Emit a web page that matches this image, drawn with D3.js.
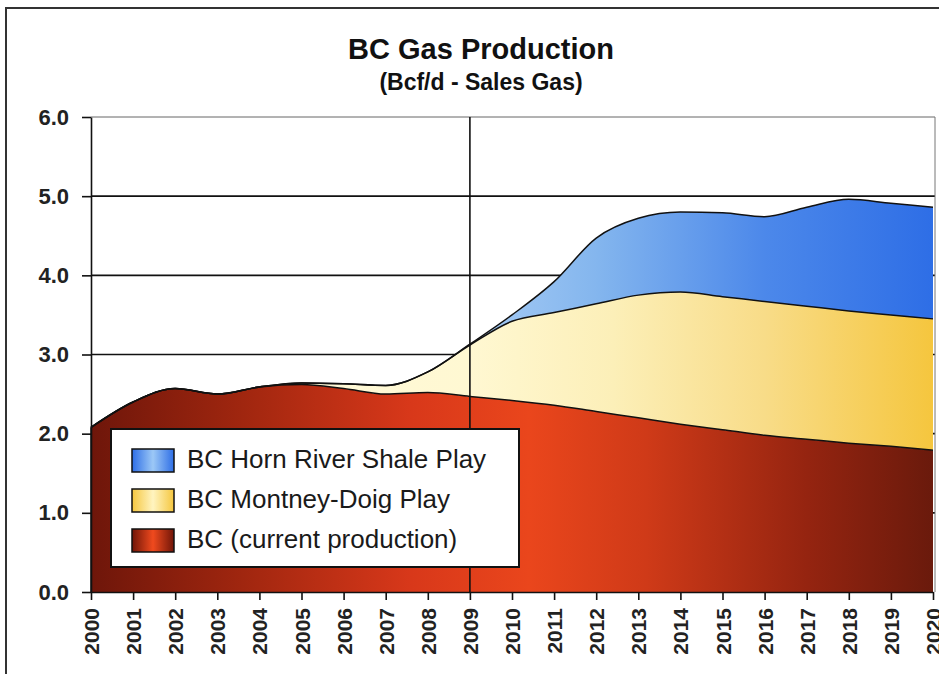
<!DOCTYPE html>
<html>
<head>
<meta charset="utf-8">
<script src="https://cdn.jsdelivr.net/npm/d3@7"></script>
<style>
body { margin: 0; background: #fff; }
text { font-family: "Liberation Sans", Arial, sans-serif; }
</style>
</head>
<body>
<svg id="chart" width="939" height="674"></svg>
<script>
// Data (Bcf/d, sales gas)
var years = [2000, 2001, 2002, 2003, 2004, 2005, 2006, 2007, 2008, 2009, 2010,
             2011, 2012, 2013, 2014, 2015, 2016, 2017, 2018, 2019, 2020];
var currentProd = [2.08, 2.40, 2.57, 2.50, 2.59, 2.62, 2.57, 2.50, 2.52, 2.47, 2.42,
                   2.36, 2.28, 2.20, 2.12, 2.05, 1.98, 1.93, 1.88, 1.84, 1.79];
var montneyDoig = [0, 0, 0, 0, 0, 0.02, 0.06, 0.11, 0.26, 0.65, 1.00,
                   1.17, 1.36, 1.55, 1.67, 1.68, 1.69, 1.68, 1.67, 1.66, 1.66];
var hornRiver = [0, 0, 0, 0, 0, 0, 0, 0, 0, 0.01, 0.08,
                 0.39, 0.83, 0.97, 1.01, 1.06, 1.07, 1.25, 1.41, 1.41, 1.41];
var yTicks = [0, 1, 2, 3, 4, 5, 6];
var seriesKeys = ["current", "montney", "horn"];
var legendLabels = ["BC Horn River Shale Play", "BC Montney-Doig Play", "BC (current production)"];
var legendKeys = ["horn", "montney", "current"];
var markerYear = 2009;

var rows = years.map(function(yr, i) {
    return {year: yr, current: currentProd[i], montney: montneyDoig[i], horn: hornRiver[i]};
});

var svg = d3.select("#chart");
var pLeft = 91, pRight = 933, pTop = 117, pBottom = 592;

var x = d3.scaleLinear().domain([2000, 2020]).range([pLeft, pRight]);
var y = d3.scaleLinear().domain([0, 6]).range([pBottom, pTop]);

// gradients
var defs = svg.append("defs");
function addGrad(id, stops, bbox) {
    var g = defs.append("linearGradient").attr("id", id)
        .attr("x1", bbox ? "0" : pLeft).attr("x2", bbox ? "1" : pRight)
        .attr("y1", 0).attr("y2", 0);
    if (!bbox) g.attr("gradientUnits", "userSpaceOnUse");
    stops.forEach(function(s) {
        g.append("stop").attr("offset", s[0]).attr("stop-color", s[1]);
    });
}
addGrad("g-current", [[0, "#6e160a"], [0.18, "#a0260f"], [0.38, "#d8381a"], [0.52, "#ea461c"],
                      [0.66, "#cf3a18"], [0.85, "#952410"], [1, "#6a1a0c"]]);
addGrad("g-montney", [[0, "#fffbe0"], [0.45, "#fff8d2"], [0.62, "#fcefb8"], [0.8, "#f8dc88"], [1, "#f5c63e"]]);
addGrad("g-horn", [[0, "#c0dcf8"], [0.45, "#a6cbf4"], [0.6, "#84b6ee"], [0.8, "#4c88ea"], [1, "#2e6ee6"]]);
addGrad("s-current", [[0, "#701508"], [0.5, "#f04a1e"], [1, "#701508"]], true);
addGrad("s-montney", [[0, "#f5c63e"], [0.5, "#fff4c0"], [1, "#f5c63e"]], true);
addGrad("s-horn", [[0, "#2e6ee6"], [0.5, "#9cc8f6"], [1, "#2e6ee6"]], true);

// outer frame
svg.append("path").attr("d", "M6,680 L6,8 L945,8")
    .attr("fill", "none").attr("stroke", "#333").attr("stroke-width", 2);

// horizontal grid
svg.append("g").selectAll("line").data(yTicks.filter(function(d) { return d > 0; }))
    .enter().append("line")
    .attr("x1", pLeft).attr("x2", pRight + 2)
    .attr("y1", function(d) { return y(d); }).attr("y2", function(d) { return y(d); })
    .attr("stroke", function(d) { return d == 6 ? "#666" : "#111"; })
    .attr("stroke-width", function(d) { return d == 6 ? 1 : 1.6; });

// stacked areas
var stacked = d3.stack().keys(seriesKeys)(rows);
var area = d3.area()
    .x(function(d) { return x(d.data.year); })
    .y0(function(d) { return y(d[0]); })
    .y1(function(d) { return y(d[1]); })
    .curve(d3.curveMonotoneX);
var topLine = d3.line()
    .x(function(d) { return x(d.data.year); })
    .y(function(d) { return y(d[1]); })
    .curve(d3.curveMonotoneX);

svg.append("g").selectAll("path").data(stacked).enter().append("path")
    .attr("d", area)
    .attr("fill", function(d) { return "url(#g-" + d.key + ")"; });

svg.append("g").selectAll("path").data(stacked).enter().append("path")
    .attr("d", topLine)
    .attr("fill", "none").attr("stroke", "#111").attr("stroke-width", 1.5);

// left edge of red area
svg.append("line").attr("x1", pLeft).attr("x2", pLeft)
    .attr("y1", y(0)).attr("y2", y(currentProd[0]))
    .attr("stroke", "#111").attr("stroke-width", 1.5);

// vertical marker line
svg.append("line").attr("x1", x(markerYear)).attr("x2", x(markerYear))
    .attr("y1", pTop).attr("y2", pBottom)
    .attr("stroke", "#111").attr("stroke-width", 1.6);

// plot border right side
svg.append("line").attr("x1", pRight + 2).attr("x2", pRight + 2)
    .attr("y1", pTop).attr("y2", pBottom)
    .attr("stroke", "#777").attr("stroke-width", 1);

// axes
var yAxis = d3.axisLeft(y).tickValues(yTicks).tickFormat(d3.format(".1f"))
    .tickSize(9).tickSizeOuter(0).tickPadding(13);
var gy = svg.append("g").attr("transform", "translate(" + pLeft + ",0)").call(yAxis);
gy.selectAll("text").style("font-size", "22px").style("font-weight", "bold").attr("fill", "#222");

var xAxis = d3.axisBottom(x).tickValues(years).tickFormat(d3.format("d"))
    .tickSize(8).tickSizeOuter(0);
var gx = svg.append("g").attr("transform", "translate(0," + pBottom + ")").call(xAxis);
gx.selectAll("text")
    .style("font-size", "21px").style("font-weight", "bold").attr("fill", "#222")
    .attr("text-anchor", "end")
    .attr("transform", "rotate(-90)")
    .attr("x", -16).attr("y", 0).attr("dy", "0.36em");
svg.selectAll(".domain, .tick line").attr("stroke", "#111").attr("stroke-width", 1.6);

// legend
var legend = svg.append("g");
legend.append("rect").attr("x", 111).attr("y", 429).attr("width", 408).attr("height", 138)
    .attr("fill", "#fff").attr("stroke", "#111").attr("stroke-width", 2);
legendKeys.forEach(function(k, i) {
    var cy = 460 + i * 40;
    legend.append("rect").attr("x", 132).attr("y", cy - 11).attr("width", 42).attr("height", 23)
        .attr("fill", "url(#s-" + k + ")").attr("stroke", "#111").attr("stroke-width", 1.5);
    legend.append("text").attr("x", 187).attr("y", cy + 8)
        .style("font-size", "26px").attr("fill", "#1a1a1a")
        .text(legendLabels[i]);
});

// titles
svg.append("text").attr("x", 481).attr("y", 59).attr("text-anchor", "middle")
    .style("font-size", "29px").style("font-weight", "bold").attr("fill", "#111")
    .text("BC Gas Production");
svg.append("text").attr("x", 481).attr("y", 90).attr("text-anchor", "middle")
    .style("font-size", "23px").style("font-weight", "bold").attr("fill", "#111")
    .text("(Bcf/d - Sales Gas)");
</script>
</body>
</html>
